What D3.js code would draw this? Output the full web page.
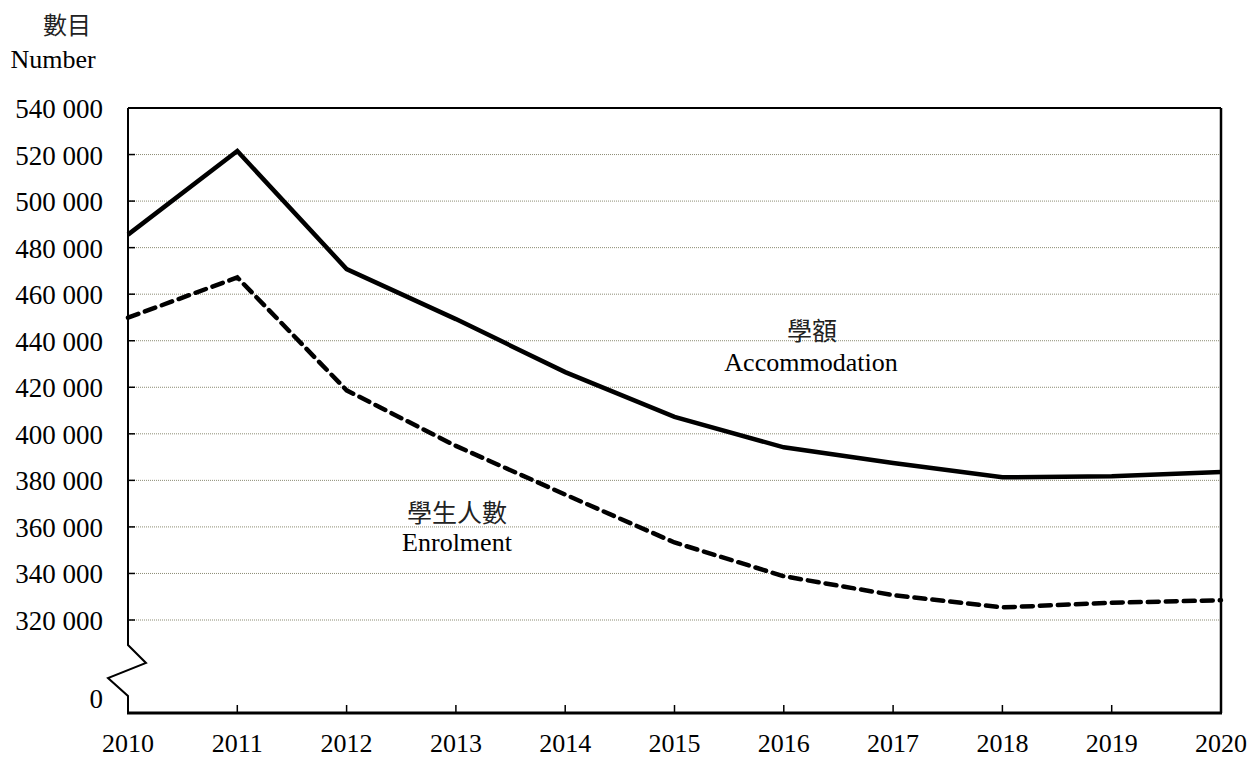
<!DOCTYPE html>
<html>
<head>
<meta charset="utf-8">
<script src="https://cdn.jsdelivr.net/npm/d3@7"></script>
<style>
  html, body { margin: 0; padding: 0; background: #fff; }
  svg { display: block; }
</style>
</head>
<body>
<svg id="chart" width="1253" height="758"></svg>
<script>
// ---- Data ----
const years = [2010, 2011, 2012, 2013, 2014, 2015, 2016, 2017, 2018, 2019, 2020];
const accommodation = [485600, 521500, 470800, 449300, 426500, 407300, 394200, 387500, 381300, 381800, 383600];
const enrolment = [449900, 467200, 418700, 394800, 373900, 353300, 338800, 330700, 325400, 327400, 328500];
const yTicks = [320000, 340000, 360000, 380000, 400000, 420000, 440000, 460000, 480000, 500000, 520000, 540000];
const zeroLabel = "0";
const yTitleZh = "數目";
const yTitleEn = "Number";
const labelAccZh = "學額";
const labelAccEn = "Accommodation";
const labelEnrZh = "學生人數";
const labelEnrEn = "Enrolment";

// ---- Layout ----
const pL = 128, pR = 1221, pT = 108, pB = 713;
const serif = "'Liberation Serif', 'Times New Roman', serif";
const cjk = "'Noto Sans CJK TC', 'Noto Sans CJK SC', sans-serif";

const svg = d3.select("#chart");

const x = d3.scaleLinear().domain([2010, 2020]).range([pL, pR]);
const y = d3.scaleLinear().domain([320000, 540000]).range([620, pT]);

const fmt = v => d3.format(",")(v).replace(/,/g, " ");

// gridlines
svg.append("g").selectAll("line")
  .data(yTicks.filter(t => t < 540000))
  .join("line")
  .attr("x1", pL).attr("x2", pR)
  .attr("y1", d => y(d)).attr("y2", d => y(d))
  .attr("stroke", "#8c8c74").attr("stroke-width", 1)
  .attr("stroke-dasharray", "1,1");

// y tick marks (inward)
svg.append("g").selectAll("line")
  .data(yTicks)
  .join("line")
  .attr("x1", pL).attr("x2", pL + 7)
  .attr("y1", d => y(d)).attr("y2", d => y(d))
  .attr("stroke", "#000").attr("stroke-width", 1.5);

// y tick labels
svg.append("g").selectAll("text")
  .data(yTicks)
  .join("text")
  .attr("x", 103).attr("y", d => y(d) + 10)
  .attr("text-anchor", "end")
  .attr("font-family", serif).attr("font-size", 27)
  .text(d => fmt(d));

svg.append("text")
  .attr("x", 103).attr("y", 708)
  .attr("text-anchor", "end")
  .attr("font-family", serif).attr("font-size", 27)
  .text(zeroLabel);

// frame: top and right
svg.append("line").attr("x1", pL).attr("x2", pR).attr("y1", pT).attr("y2", pT)
  .attr("stroke", "#000").attr("stroke-width", 2);
svg.append("line").attr("x1", pR).attr("x2", pR).attr("y1", pT).attr("y2", pB)
  .attr("stroke", "#000").attr("stroke-width", 2.5);

// left axis with break
svg.append("path")
  .attr("d", `M${pL},${pT} V645 L146,663 L108,678 L${pL},696 V${pB}`)
  .attr("fill", "none").attr("stroke", "#000").attr("stroke-width", 2);

// bottom axis
svg.append("line").attr("x1", pL - 1).attr("x2", pR + 1).attr("y1", pB).attr("y2", pB)
  .attr("stroke", "#000").attr("stroke-width", 3);

// x ticks upward
svg.append("g").selectAll("line")
  .data(years)
  .join("line")
  .attr("x1", d => x(d)).attr("x2", d => x(d))
  .attr("y1", pB).attr("y2", pB - 8)
  .attr("stroke", "#000").attr("stroke-width", 1.5);

// x labels
svg.append("g").selectAll("text")
  .data(years)
  .join("text")
  .attr("x", d => x(d)).attr("y", 752)
  .attr("text-anchor", "middle")
  .attr("font-family", serif).attr("font-size", 26)
  .text(d => d);

// lines
const line = d3.line().x((d, i) => x(years[i])).y(d => y(d));

svg.append("path")
  .datum(accommodation)
  .attr("d", line)
  .attr("fill", "none").attr("stroke", "#000").attr("stroke-width", 4.5)
  .attr("stroke-linejoin", "miter");

svg.append("path")
  .datum(enrolment)
  .attr("d", line)
  .attr("fill", "none").attr("stroke", "#000").attr("stroke-width", 4.5)
  .attr("stroke-dasharray", "11,7").attr("stroke-linecap", "round");

// titles
svg.append("text").attr("x", 67).attr("y", 34).attr("text-anchor", "middle")
  .attr("font-family", cjk).attr("font-size", 24).attr("fill", "#222").text(yTitleZh);
svg.append("text").attr("x", 53).attr("y", 68).attr("text-anchor", "middle")
  .attr("font-family", serif).attr("font-size", 26).text(yTitleEn);

// series labels
svg.append("text").attr("x", 812).attr("y", 340).attr("text-anchor", "middle")
  .attr("font-family", cjk).attr("font-size", 25).attr("fill", "#222").text(labelAccZh);
svg.append("text").attr("x", 811).attr("y", 371).attr("text-anchor", "middle")
  .attr("font-family", serif).attr("font-size", 26).text(labelAccEn);
svg.append("text").attr("x", 457).attr("y", 522).attr("text-anchor", "middle")
  .attr("font-family", cjk).attr("font-size", 25).attr("fill", "#222").text(labelEnrZh);
svg.append("text").attr("x", 457).attr("y", 551).attr("text-anchor", "middle")
  .attr("font-family", serif).attr("font-size", 26).text(labelEnrEn);
</script>
</body>
</html>
